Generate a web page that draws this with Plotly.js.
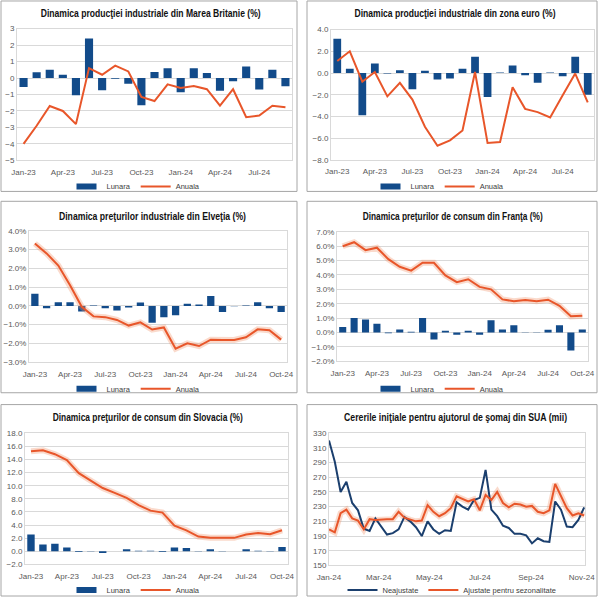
<!DOCTYPE html>
<html><head><meta charset="utf-8">
<script src="https://cdn.plot.ly/plotly-3.0.1.min.js"></script>
<style>html,body{margin:0;padding:0;background:#fff}#chart{width:600px;height:605px}</style>
</head><body><div id="chart"></div>
<script>
// ---------- DATA ----------
const months = ["Jan-23","Feb-23","Mar-23","Apr-23","May-23","Jun-23","Jul-23","Aug-23","Sep-23","Oct-23","Nov-23","Dec-23",
                "Jan-24","Feb-24","Mar-24","Apr-24","May-24","Jun-24","Jul-24","Aug-24","Sep-24","Oct-24"];
const monthsToSep24 = months.slice(0, 21);
const tickMonths = ["Jan-23","Apr-23","Jul-23","Oct-23","Jan-24","Apr-24","Jul-24","Oct-24"];

const lunaraUK = [-0.55, 0.35, 0.5, 0.2, -1.05, 2.4, -0.75, -0.05, -0.35, -1.65, 0.36, 0.6, -0.86, 0.6, 0.3, -0.78, -0.2, 0.7, -0.7, 0.5, -0.5];
const anualaUK = [-4.0, -2.9, -1.7, -2.0, -2.8, 0.6, 0.2, 0.75, 0.4, -1.15, -1.4, -0.38, -0.6, -0.48, -0.68, -1.68, -0.68, -2.38, -2.28, -1.68, -1.78];

const lunaraEZ = [3.15, 0.4, -3.9, 0.88, -0.05, 0.25, -1.5, 0.2, -0.6, -0.5, 0.4, 1.5, -2.2, 0.05, 0.7, -0.2, -0.9, 0.05, -0.3, 1.5, -2.0];
const anualaEZ = [1.1, 2.0, -0.8, 0.1, -2.15, -0.9, -2.45, -4.95, -6.7, -6.2, -5.3, 0.1, -6.45, -6.35, -1.3, -3.3, -3.6, -4.1, -2.05, -0.05, -2.7];

const lunaraCH = [0.65, -0.12, 0.2, 0.2, -0.3, 0.02, -0.12, -0.25, -0.08, 0.18, -0.9, -0.6, -0.5, 0.12, 0.08, 0.53, -0.33, -0.02, 0.02, 0.2, -0.12, -0.33];
const anualaCH = [3.33, 2.8, 2.15, 1.1, -0.05, -0.56, -0.6, -0.75, -1.05, -0.88, -1.26, -1.15, -2.28, -2.0, -2.14, -1.8, -1.82, -1.82, -1.67, -1.25, -1.3, -1.8];

const lunaraFR = [0.37, 1.0, 0.9, 0.6, -0.05, 0.2, 0.05, 1.0, -0.5, 0.12, -0.17, 0.12, -0.17, 0.85, 0.2, 0.5, -0.02, 0.01, 0.18, 0.5, -1.25, 0.2];
const anualaFR = [6.0, 6.28, 5.73, 5.9, 5.1, 4.57, 4.3, 4.85, 4.85, 3.97, 3.5, 3.7, 3.17, 3.0, 2.3, 2.17, 2.26, 2.17, 2.28, 1.85, 1.12, 1.16];

const lunaraSK = [2.55, 1.05, 1.15, 0.6, -0.1, 0.05, -0.25, 0.02, 0.3, 0.1, 0.1, -0.1, 0.6, 0.5, 0.05, 0.3, 0.05, 0.02, 0.3, 0.1, 0.05, 0.65];
const anualaSK = [15.25, 15.4, 14.8, 13.9, 11.9, 10.75, 9.65, 8.9, 8.15, 7.05, 6.2, 5.9, 3.9, 3.2, 2.25, 2.05, 2.1, 2.05, 2.55, 2.8, 2.6, 3.2];

const weeks = ["2024-01-01","2024-01-08","2024-01-15","2024-01-22","2024-01-29","2024-02-05","2024-02-12","2024-02-19","2024-02-26",
  "2024-03-04","2024-03-11","2024-03-18","2024-03-25","2024-04-01","2024-04-08","2024-04-15","2024-04-22","2024-04-29",
  "2024-05-06","2024-05-13","2024-05-20","2024-05-27","2024-06-03","2024-06-10","2024-06-17","2024-06-24",
  "2024-07-01","2024-07-08","2024-07-15","2024-07-22","2024-07-29","2024-08-05","2024-08-12","2024-08-19","2024-08-26",
  "2024-09-02","2024-09-09","2024-09-16","2024-09-23","2024-09-30","2024-10-07","2024-10-14","2024-10-21","2024-10-28","2024-11-04"];
const neajustate = [320, 291, 250, 264, 235, 225, 200, 197, 214, 203, 192, 194, 199, 216, 210, 202, 190, 210, 199, 193, 198, 197,
                    236, 230, 226, 239, 242, 280, 226, 217, 204, 201, 193, 193, 191, 180, 187, 183, 182, 237, 226, 203, 202, 212, 229];
const ajustate = [199, 195, 221, 226, 214, 211, 199, 213, 212, 213, 213, 213, 223, 215, 212, 210, 211, 232, 223, 217, 221, 228,
                  244, 240, 237, 240, 225, 246, 239, 250, 235, 229, 234, 233, 230, 231, 223, 221, 225, 261, 244, 228, 218, 221, 218];

const titles = [
  "Dinamica producţiei industriale din Marea Britanie (%)",
  "Dinamica producţiei industriale din zona euro (%)",
  "Dinamica preţurilor industriale din Elveţia (%)",
  "Dinamica preţurilor de consum din Franţa (%)",
  "Dinamica preţurilor de consum din Slovacia (%)",
  "Cererile iniţiale pentru ajutorul de şomaj din SUA (mii)"
];

// ---------- STYLE / LAYOUT ----------
const W = 600, H = 605;
const BLUE = '#124B8A', ORANGE = '#E8562A', GLOW = 'rgba(240,150,110,0.35)', NAVY = '#1B3F6E';
const GRID = '#D9D9D9';
const FONT = 'Liberation Sans, Arial, sans-serif';
const tickfont = {family: FONT, size: 8, color: '#595959'};
const xd = (a, b) => [a / W, b / W];
const yd = (t, b) => [1 - b / H, 1 - t / H];

const plots = [
  {x: [17, 292], y: [29, 162.5]},
  {x: [331, 594], y: [30, 162]},
  {x: [29, 287], y: [234, 367]},
  {x: [337, 588], y: [235, 366]},
  {x: [25, 288], y: [439, 572]},
  {x: [329, 585], y: [439, 573]}
];
const boxes = [
  [1, 1, 297, 194], [307, 1, 597, 194],
  [1, 204, 297, 398], [307, 204, 597, 398],
  [1, 410, 297, 604], [307, 410, 597, 604]
];
const titleY = [14, 14, 219, 219, 423, 423];
const titleX = [151, 455, 152, 453, 148, 455];
const titleW = [220, 201, 187, 180, 190, 223];
const TITLE_SIZE = 8, TITLE_STRETCH_Y = 1.45;
const legendY = [189, 189, 394, 394, 598, 598];
const legendX = [136, 440, 136, 440, 136, 452];

const layout = {
  width: W, height: H, margin: {l: 0, r: 0, t: 0, b: 0},
  paper_bgcolor: '#fff', plot_bgcolor: '#fff',
  bargap: 0.38, showlegend: true,
  font: {family: FONT, size: 8, color: '#404040'},
  shapes: [], annotations: []
};

function yax(i, range, dtick, fmt, suffix) {
  return {domain: yd(plots[i].y[0], plots[i].y[1]), anchor: 'x' + (i + 1), range, dtick, tick0: range[0],
    tickformat: fmt, ticksuffix: suffix || '', tickfont, gridcolor: GRID, gridwidth: 1, zeroline: false,
    showline: true, mirror: true, linecolor: GRID, ticks: '', fixedrange: true};
}
function xcat(i, n) {
  return {domain: xd(plots[i].x[0], plots[i].x[1]), anchor: 'y' + (i + 1), type: 'category',
    range: [-0.5, n - 0.5], tickvals: tickMonths.slice(0, n === 22 ? 8 : 7), tickfont, showgrid: false,
    ticklabelstandoff: 4,
    zeroline: false, showline: true, mirror: true, linecolor: GRID, ticks: '', fixedrange: true};
}
layout.xaxis = xcat(0, 21); layout.yaxis = yax(0, [-5, 3], 1, 'd');
layout.xaxis2 = xcat(1, 21); layout.yaxis2 = yax(1, [-8, 4], 2, '.1f');
layout.xaxis3 = xcat(2, 22); layout.yaxis3 = yax(2, [-3, 4], 1, '.1f', '%');
layout.xaxis4 = xcat(3, 22); layout.yaxis4 = yax(3, [-2, 7], 1, '.1f', '%');
layout.xaxis5 = xcat(4, 22); layout.yaxis5 = yax(4, [-2, 18], 2, '.1f');
layout.xaxis6 = {domain: xd(plots[5].x[0], plots[5].x[1]), anchor: 'y6', type: 'date',
  range: ['2024-01-01', '2024-11-05'], tick0: '2024-01-01', dtick: 'M2', tickformat: '%b-%y',
  ticklabelstandoff: 4,
  tickfont, showgrid: false, zeroline: false, showline: true, mirror: true, linecolor: GRID, ticks: '', fixedrange: true};
layout.yaxis6 = yax(5, [150, 330], 20, 'd');

for (let i = 0; i < 6; i++) {
  const b = boxes[i];
  layout.shapes.push({type: 'rect', xref: 'paper', yref: 'paper', x0: b[0] / W, x1: b[2] / W,
    y0: 1 - b[3] / H, y1: 1 - b[1] / H, line: {color: '#A6A6A6', width: 1}, layer: 'below'});
  layout.annotations.push({text: titles[i], xref: 'paper', yref: 'paper',
    x: titleX[i] / W, y: 1 - titleY[i] / H, xanchor: 'center', yanchor: 'middle', showarrow: false, align: 'center',
    font: {family: FONT, size: TITLE_SIZE, weight: 'bold', color: '#111'}});
  const key = i === 0 ? 'legend' : 'legend' + (i + 1);
  layout[key] = {orientation: 'h', x: legendX[i] / W, y: 1 - legendY[i] / H, xanchor: 'center', yanchor: 'middle',
    font: {family: FONT, size: 7.5, color: '#404040'}, bgcolor: 'rgba(0,0,0,0)', itemwidth: 30, tracegroupgap: 0};
}

const traces = [];
const sets = [
  [monthsToSep24, lunaraUK, anualaUK, false],
  [monthsToSep24, lunaraEZ, anualaEZ, false],
  [months, lunaraCH, anualaCH, true],
  [months, lunaraFR, anualaFR, true],
  [months, lunaraSK, anualaSK, true]
];
sets.forEach((s, i) => {
  const ax = i === 0 ? '' : String(i + 1);
  const lg = i === 0 ? 'legend' : 'legend' + (i + 1);
  traces.push({type: 'bar', x: s[0], y: s[1], name: 'Lunara', xaxis: 'x' + ax, yaxis: 'y' + ax, legend: lg,
    marker: {color: BLUE}, hoverinfo: 'skip'});
  if (s[3]) traces.push({type: 'scatter', mode: 'lines', x: s[0], y: s[2], xaxis: 'x' + ax, yaxis: 'y' + ax,
    line: {color: GLOW, width: 6}, showlegend: false, hoverinfo: 'skip'});
  traces.push({type: 'scatter', mode: 'lines', x: s[0], y: s[2], name: 'Anuala', xaxis: 'x' + ax, yaxis: 'y' + ax,
    legend: lg, line: {color: ORANGE, width: 2}, hoverinfo: 'skip'});
});
traces.push({type: 'scatter', mode: 'lines', x: weeks, y: ajustate, xaxis: 'x6', yaxis: 'y6',
  line: {color: GLOW, width: 6}, showlegend: false, hoverinfo: 'skip'});
traces.push({type: 'scatter', mode: 'lines', x: weeks, y: neajustate, name: 'Neajustate', xaxis: 'x6', yaxis: 'y6',
  legend: 'legend6', line: {color: NAVY, width: 2}, hoverinfo: 'skip'});
traces.push({type: 'scatter', mode: 'lines', x: weeks, y: ajustate, name: 'Ajustate pentru sezonalitate', xaxis: 'x6', yaxis: 'y6',
  legend: 'legend6', line: {color: ORANGE, width: 2}, hoverinfo: 'skip'});

Plotly.newPlot('chart', traces, layout, {displayModeBar: false, staticPlot: true}).then(gd => {
  // condensed-title look: small bold face stretched vertically, fitted to the reference width
  gd.querySelectorAll('.annotation-text').forEach((t, i) => {
    if (!titleW[i]) return;
    t.setAttribute('textLength', titleW[i]);
    t.setAttribute('lengthAdjust', 'spacingAndGlyphs');
    const bb = t.getBBox();
    const cy = bb.y + bb.height / 2;
    const prev = t.getAttribute('transform') || '';
    t.setAttribute('transform', prev + ` translate(0 ${cy}) scale(1 ${TITLE_STRETCH_Y}) translate(0 ${-cy})`);
  });
  // wide, flat legend swatches for the bar series (Excel style)
  gd.querySelectorAll('.legendpoints path.legendundefined').forEach(p => {
    p.setAttribute('d', 'M10,3H-10V-3H10Z');
  });
});
</script></body></html>
